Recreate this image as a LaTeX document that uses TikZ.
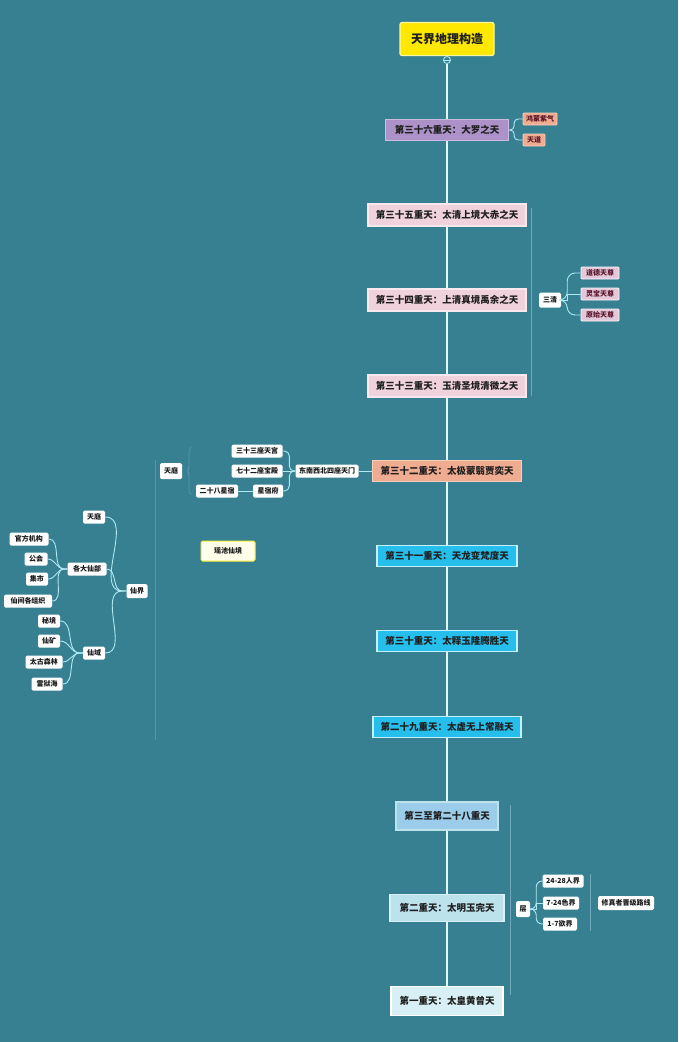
\documentclass[tikz,border=0pt]{standalone}
\usepackage{fontspec}
\newfontfamily\cjk{Noto Sans CJK SC}
\definecolor{bg}{RGB}{54,128,146}
\definecolor{linkc}{RGB}{175,232,242}
\definecolor{spinec}{RGB}{225,248,248}
\definecolor{ttlfill}{RGB}{255,232,0}
\definecolor{ttlline}{RGB}{255,246,160}
\definecolor{purfill}{RGB}{172,146,200}
\definecolor{purline}{RGB}{205,188,225}
\definecolor{salfill}{RGB}{240,172,145}
\definecolor{salline}{RGB}{248,205,185}
\definecolor{pinkfill}{RGB}{240,210,220}
\definecolor{pinkline}{RGB}{250,232,238}
\definecolor{lavfill}{RGB}{228,200,218}
\definecolor{lavtext}{RGB}{90,20,40}
\definecolor{cyanfill}{RGB}{38,190,235}
\definecolor{cyanline}{RGB}{195,240,250}
\definecolor{lbfill}{RGB}{155,205,235}
\definecolor{lb2fill}{RGB}{188,226,236}
\definecolor{lb3fill}{RGB}{216,240,245}
\definecolor{faintc}{RGB}{110,170,185}
\definecolor{faintd}{RGB}{85,150,166}
\begin{document}
\begin{tikzpicture}[x=1pt,y=-1pt,
  box/.style={inner sep=0pt, line width=1.2pt, font=\cjk\bfseries\fontsize{9.5}{10}\selectfont, text=black!88},
  leaf/.style={fill=white, rounded corners=1.5pt, inner sep=0pt, minimum height=13pt, font=\cjk\bfseries\fontsize{7}{8}\selectfont, text=black!90},
  tag/.style={inner sep=0pt, minimum height=12pt, rounded corners=1pt, line width=0.8pt, font=\cjk\bfseries\fontsize{7}{8}\selectfont},
  link/.style={draw=linkc, line width=0.9pt},
  spine/.style={draw=spinec, line width=2pt},
  faint/.style={draw=faintc, line width=0.7pt},
  fainter/.style={draw=faintd, line width=0.7pt}
]
\fill[bg] (0,0) rectangle (678,1042);
\useasboundingbox (0,0) rectangle (678,1042);

% title
\node[box, fill=ttlfill, draw=ttlline, rounded corners=2pt, minimum width=94pt, minimum height=33pt,
  font=\cjk\bfseries\fontsize{12}{13}\selectfont] (title) at (447,39) {天界地理构造};
\node[circle, draw=linkc, fill=bg, line width=0.8pt, minimum size=7pt, inner sep=0pt] (dot) at (447,60) {};
\draw[linkc, line width=0.8pt] (dot.west) -- (dot.east);

% main heavens
\node[box, fill=purfill, draw=purline, minimum width=123pt, minimum height=21pt] (t36) at (447,130) {第三十六重天：大罗之天};
\node[box, fill=pinkfill, draw=pinkline, minimum width=158pt, minimum height=22pt] (t35) at (447,215) {第三十五重天：太清上境大赤之天};
\node[box, fill=pinkfill, draw=pinkline, minimum width=158pt, minimum height=22pt] (t34) at (447,300) {第三十四重天：上清真境禹余之天};
\node[box, fill=pinkfill, draw=pinkline, minimum width=158pt, minimum height=22pt] (t33) at (447,386) {第三十三重天：玉清圣境清微之天};
\node[box, fill=salfill, draw=salline, minimum width=149pt, minimum height=21pt] (t32) at (447,471) {第三十二重天：太极蒙翳贾奕天};
\node[box, fill=cyanfill, draw=cyanline, minimum width=140pt, minimum height=21pt] (t31) at (447,556) {第三十一重天：天龙变梵度天};
\node[box, fill=cyanfill, draw=cyanline, minimum width=140pt, minimum height=21pt] (t30) at (447,641) {第三十重天：太释玉隆腾胜天};
\node[box, fill=cyanfill, draw=cyanline, minimum width=148pt, minimum height=21pt] (t29) at (447,727) {第二十九重天：太虚无上常融天};
\node[box, fill=lbfill, draw=lb2fill, minimum width=102pt, minimum height=28pt] (t3) at (447,816) {第三至第二十八重天};
\node[box, fill=lb2fill, draw=lb3fill, minimum width=114pt, minimum height=27pt] (t2) at (447,908) {第二重天：太明玉完天};
\node[box, fill=lb3fill, draw=white, minimum width=112pt, minimum height=29pt] (t1) at (447,1001) {第一重天：太皇黄曾天};

% spine
\draw[spine] (dot.south) -- (t36.north);
\draw[spine] (t36.south) -- (t35.north);
\draw[spine] (t35.south) -- (t34.north);
\draw[spine] (t34.south) -- (t33.north);
\draw[spine] (t33.south) -- (t32.north);
\draw[spine] (t32.south) -- (t31.north);
\draw[spine] (t31.south) -- (t30.north);
\draw[spine] (t30.south) -- (t29.north);
\draw[spine] (t29.south) -- (t3.north);
\draw[spine] (t3.south) -- (t2.north);
\draw[spine] (t2.south) -- (t1.north);

% 36 children
\node[tag, fill=salfill, draw=salline, minimum width=34pt, text=lavtext] (hm) at (540,119) {鸿蒙紫气};
\node[tag, fill=salfill, draw=salline, minimum width=22pt, text=lavtext] (td) at (534,140) {天道};
\draw[link, rounded corners=4pt] (t36.east) -- ++(5,0) |- (hm.west);
\draw[link, rounded corners=4pt] (t36.east) -- ++(5,0) |- (td.west);

% 三清
\draw[faint] (531,208) -- (531,396);
\node[leaf, minimum width=22pt, minimum height=15pt] (sq) at (550,300) {三清};
\node[tag, fill=lavfill, draw=white!85!lavfill, minimum width=38pt, text=lavtext] (dd) at (600,273) {道德天尊};
\node[tag, fill=lavfill, draw=white!85!lavfill, minimum width=38pt, text=lavtext] (lb) at (600,294) {灵宝天尊};
\node[tag, fill=lavfill, draw=white!85!lavfill, minimum width=38pt, text=lavtext] (ys) at (600,315) {原始天尊};
\draw[link, rounded corners=8pt] (sq.east) -- ++(6,0) |- (dd.west);
\draw[link, rounded corners=8pt] (sq.east) -- ++(6,0) |- (ys.west);
\draw[link] (sq.east) -- ++(6,0) |- (lb.west);

% 32 children
\node[leaf, minimum width=63pt] (gate) at (327,471) {东南西北四座天门};
\node[leaf, minimum width=51pt] (tg) at (257,451) {三十三座天宫};
\node[leaf, minimum width=51pt] (bd) at (257,471) {七十二座宝殿};
\node[leaf, minimum width=30pt] (xs) at (268,491) {星宿府};
\node[leaf, minimum width=42pt] (ex) at (217,491) {二十八星宿};
\draw[link] (t32.west) -- (gate.east);
\draw[link, rounded corners=5pt] (gate.west) -- ++(-6,0) |- (tg.east);
\draw[link, rounded corners=5pt] (gate.west) -- ++(-6,0) |- (xs.east);
\draw[link] (gate.west) -- (bd.east);
\draw[link] (xs.west) -- (ex.east);

% 天庭 (top left)
\node[leaf, minimum width=22pt, minimum height=16pt] (tt0) at (171,471) {天庭};
\draw[fainter, rounded corners=3pt] (191,447) -- (189,451) -- (189,468) -- (187,471) -- (189,474) -- (189,491) -- (191,495);
\draw[fainter] (155,460) -- (155,740);

% 瑶池仙境
\node[leaf, fill=white!92!yellow, draw=ttlfill!80!white, line width=1pt, minimum width=54pt, minimum height=20pt] (yc) at (228,551) {瑶池仙境};

% 仙界 tree
\node[leaf, minimum width=21pt, minimum height=14pt] (xj) at (137,591) {仙界};
\node[leaf, minimum width=22pt] (tt1) at (94,517) {天庭};
\node[leaf, minimum width=39pt] (gd) at (87,569) {各大仙部};
\node[leaf, minimum width=22pt] (xy) at (94,653) {仙域};
\draw[link] (xj.west) -- ++(-4,0) to[out=180,in=0] (tt1.east);
\draw[link] (xj.west) -- ++(-4,0) to[out=180,in=0] (gd.east);
\draw[link] (xj.west) -- ++(-4,0) to[out=180,in=0] (xy.east);

\node[leaf, minimum width=39pt] (gf) at (29,539) {官方机构};
\node[leaf, minimum width=23pt] (gh) at (36,559) {公会};
\node[leaf, minimum width=22pt] (js) at (37,579) {集市};
\node[leaf, minimum width=48pt] (zz) at (28,601) {仙间各组织};
\foreach \c in {gf,gh,js,zz} \draw[link] (gd.west) -- ++(-3,0) to[out=180,in=0] (\c.east);

\node[leaf, minimum width=22pt] (mj) at (49,621) {秘境};
\node[leaf, minimum width=22pt] (xk) at (49,641) {仙矿};
\node[leaf, minimum width=37pt] (tg2) at (44,662) {太古森林};
\node[leaf, minimum width=31pt] (ly) at (47,684) {雷狱海};
\foreach \c in {mj,xk,tg2,ly} \draw[link] (xy.west) -- ++(-3,0) to[out=180,in=0] (\c.east);

% 层 tree
\draw[faint] (510,805) -- (510,995);
\node[leaf, minimum width=14pt, minimum height=16pt] (ceng) at (523,909) {层};
\node[leaf, minimum width=41pt] (rj) at (563,881) {24-28人界};
\node[leaf, minimum width=36pt] (sj) at (561,903) {7-24色界};
\node[leaf, minimum width=34pt] (yj) at (560,924) {1-7欲界};
\draw[link, rounded corners=6pt] (ceng.east) -- ++(6,0) |- (rj.west);
\draw[link, rounded corners=6pt] (ceng.east) -- ++(6,0) |- (yj.west);
\draw[link] (ceng.east) -- ++(6,0) |- (sj.west);
\draw[faint] (590,874) -- (590,931);
\node[leaf, minimum width=56pt, minimum height=14pt] (lx) at (626,903) {修真者晋级路线};
\end{tikzpicture}
\end{document}
